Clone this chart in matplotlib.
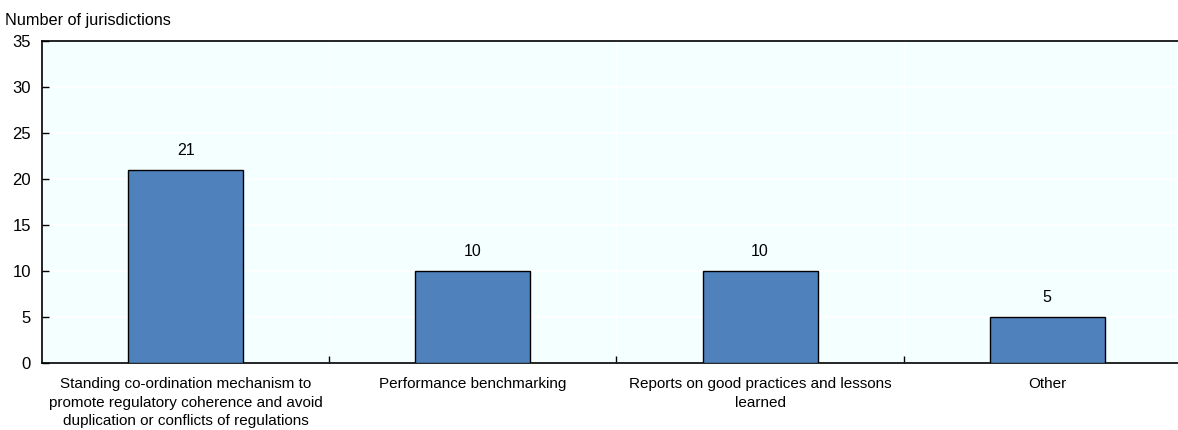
import matplotlib
matplotlib.use("Agg")
import matplotlib.pyplot as plt

categories = [
    "Standing co-ordination mechanism to\npromote regulatory coherence and avoid\nduplication or conflicts of regulations",
    "Performance benchmarking",
    "Reports on good practices and lessons\nlearned",
    "Other",
]
values = [21, 10, 10, 5]
y_ticks = [0, 5, 10, 15, 20, 25, 30, 35]

plt.rcParams["font.family"] = ["Liberation Sans", "DejaVu Sans"]

fig = plt.figure(figsize=(11.78, 4.30), dpi=100)
ax = fig.add_axes([42 / 1178, 67 / 430, 1 - 42 / 1178, (363 - 41) / 430])
ax.set_facecolor("#F4FFFF")

x = list(range(len(categories)))
ax.bar(x, values, width=0.4, color="#4F81BD", edgecolor="black",
       linewidth=1.0, zorder=3)
for xi, v in zip(x, values):
    ax.text(xi, v + 1.3, str(v), ha="center", va="bottom", fontsize=11.5, zorder=4)

ax.set_xlim(-0.5, 3.455)
ax.set_ylim(0, 35)
ax.set_yticks(y_ticks)
ax.set_yticklabels([str(t) for t in y_ticks], fontsize=12)

# category labels centred under bars, ticks on category boundaries
ax.set_xticks(x)
ax.set_xticklabels(categories, fontsize=11, linespacing=1.42)
ax.tick_params(axis="x", which="major", length=0, pad=10)
ax.set_xticks([0.5, 1.5, 2.5], minor=True)
ax.tick_params(axis="x", which="minor", direction="in", length=5, width=1, color="black")
ax.tick_params(axis="y", direction="in", length=5, width=1, pad=8)

ax.grid(axis="y", color="white", linewidth=1.2, zorder=1)
for b in [0.5, 1.5, 2.5]:
    ax.axvline(b, color="white", linewidth=1.0, zorder=1)

for s in ["left", "bottom", "top"]:
    ax.spines[s].set_color("black")
    ax.spines[s].set_linewidth(1.2)
ax.spines["right"].set_visible(False)

fig.text(5 / 1178, 1 - 20 / 430, "Number of jurisdictions", fontsize=11.7, ha="left", va="center")

fig.savefig("out.png", dpi=100)
